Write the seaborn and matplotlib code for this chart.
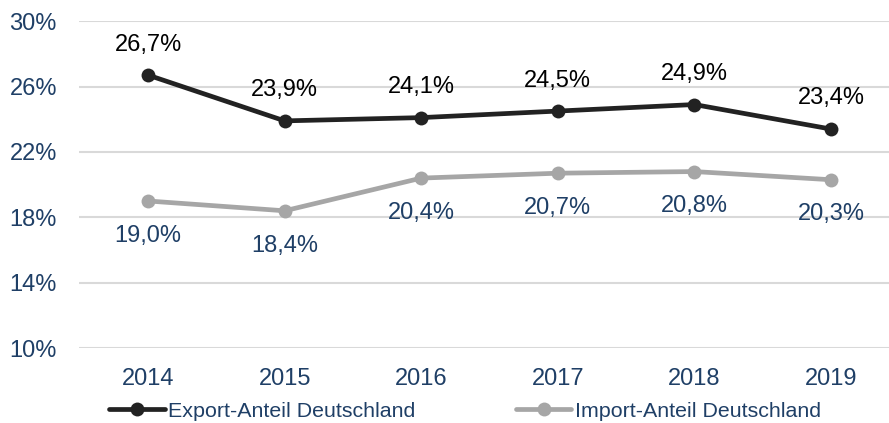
import pandas as pd
import matplotlib.pyplot as plt
import seaborn as sns

# data
years = [2014, 2015, 2016, 2017, 2018, 2019]
export_share = [26.7, 23.9, 24.1, 24.5, 24.9, 23.4]
import_share = [19.0, 18.4, 20.4, 20.7, 20.8, 20.3]
series_names = ["Export-Anteil Deutschland", "Import-Anteil Deutschland"]
y_ticks = [10, 14, 18, 22, 26, 30]

df = pd.DataFrame({
    "Jahr": years * 2,
    "Anteil": export_share + import_share,
    "Serie": [series_names[0]] * len(years) + [series_names[1]] * len(years),
})

sns.set_style("white")
plt.rcParams["font.family"] = ["Liberation Sans", "DejaVu Sans"]

navy = "#1f3f66"
colors = {series_names[0]: "#222222", series_names[1]: "#a6a6a6"}

fig = plt.figure(figsize=(8.89, 4.23), dpi=100)
ax = fig.add_axes([0.089, 0.177, 0.911, 0.773])

sns.lineplot(data=df, x="Jahr", y="Anteil", hue="Serie", palette=colors,
             marker="o", markersize=10, markeredgewidth=0, linewidth=3.4,
             ax=ax, legend=False)

# data labels
for x, v in zip(years, export_share):
    ax.annotate(f"{v:.1f}%".replace(".", ","), (x, v), xytext=(0, 22),
                textcoords="offset points", ha="center", va="center",
                fontsize=17, color="black")
for x, v in zip(years, import_share):
    ax.annotate(f"{v:.1f}%".replace(".", ","), (x, v), xytext=(0, -25),
                textcoords="offset points", ha="center", va="center",
                fontsize=17, color=navy)

ax.set_xlim(2013.495, 2019.425)
ax.set_ylim(10, 30)
ax.set_yticks(y_ticks)
ax.set_yticklabels([f"{t}%" for t in y_ticks])
ax.set_xticks(years)
ax.set_xticklabels([str(y) for y in years])
ax.tick_params(axis="both", length=0, labelsize=17, labelcolor=navy)
ax.tick_params(axis="y", pad=16)
ax.tick_params(axis="x", pad=14)
ax.yaxis.grid(True, color="#d9d9d9", linewidth=1.5)
ax.xaxis.grid(False)
ax.set_xlabel("")
ax.set_ylabel("")
for s in ax.spines.values():
    s.set_visible(False)

# legend
handles = [plt.Line2D([], [], color=colors[n], marker="o", markersize=10,
                      linewidth=3.4, markeredgewidth=0) for n in series_names]
fig.legend(handles, series_names, loc="lower center", ncol=2, frameon=False,
           fontsize=15.4, labelcolor=navy, handlelength=2.6, handletextpad=0.15,
           columnspacing=4.7, bbox_to_anchor=(0.523, -0.04))

fig.savefig("out.png", dpi=100)
